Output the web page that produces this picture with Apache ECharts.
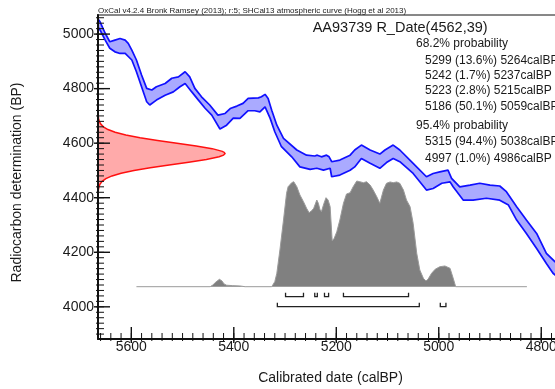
<!DOCTYPE html>
<html><head><meta charset="utf-8">
<script src="https://cdn.jsdelivr.net/npm/echarts@6/dist/echarts.min.js"></script>
<style>html,body{margin:0;padding:0;background:#fff}#c{width:555px;height:389px}</style>
</head><body><div id="c"></div>
<script>
// ---------- data ----------
const headerText = 'OxCal v4.2.4 Bronk Ramsey (2013); r:5; SHCal13 atmospheric curve (Hogg et al 2013)';
const sampleName = 'AA93739 R_Date(4562,39)';
const xAxisName = 'Calibrated date (calBP)';
const yAxisName = 'Radiocarbon determination (BP)';
const xTickLabels = [5600, 5400, 5200, 5000, 4800];
const yTickLabels = [4000, 4200, 4400, 4600, 4800, 5000];

// calibration curve band: [calBP, BP]
const curveUpper = [[5665,5055],[5661,5045],[5651,5003],[5642,4972],[5632,4978],[5622,4984],[5612,4978],[5606,4966],[5599,4941],[5590,4905],[5580,4850],[5570,4801],[5560,4795],[5551,4807],[5534,4819],[5521,4838],[5508,4843],[5495,4862],[5486,4843],[5476,4801],[5463,4770],[5447,4740],[5431,4703],[5417,4709],[5407,4727],[5394,4736],[5382,4746],[5372,4764],[5352,4766],[5346,4770],[5339,4779],[5333,4764],[5326,4721],[5316,4666],[5303,4618],[5277,4575],[5258,4556],[5242,4553],[5237,4556],[5229,4550],[5219,4556],[5214,4550],[5209,4532],[5193,4538],[5173,4556],[5164,4575],[5151,4593],[5134,4575],[5115,4560],[5105,4575],[5089,4593],[5076,4575],[5050,4526],[5024,4477],[5011,4489],[4998,4495],[4982,4501],[4975,4471],[4959,4440],[4939,4446],[4920,4453],[4900,4446],[4881,4443],[4868,4422],[4848,4367],[4829,4318],[4809,4269],[4790,4196],[4773,4165],[4754,4142]];
const curveLower = [[5665,5026],[5661,5015],[5651,4978],[5642,4948],[5632,4935],[5622,4929],[5612,4929],[5599,4905],[5590,4862],[5580,4807],[5570,4752],[5564,4740],[5551,4758],[5534,4776],[5518,4788],[5505,4807],[5495,4819],[5482,4788],[5469,4758],[5456,4728],[5443,4703],[5427,4652],[5414,4666],[5401,4692],[5388,4691],[5372,4719],[5359,4719],[5349,4715],[5339,4733],[5329,4691],[5320,4642],[5307,4587],[5287,4550],[5271,4513],[5251,4504],[5238,4508],[5225,4501],[5212,4508],[5209,4477],[5193,4483],[5173,4501],[5164,4513],[5151,4544],[5134,4526],[5115,4508],[5102,4529],[5089,4544],[5076,4532],[5050,4489],[5024,4428],[5011,4434],[4994,4453],[4978,4458],[4972,4440],[4952,4391],[4933,4391],[4907,4398],[4881,4391],[4864,4373],[4848,4318],[4829,4269],[4809,4214],[4790,4159],[4777,4123],[4754,4087]];

// radiocarbon date likelihood (relative density) by BP
const dateBP =      [4420,  4430,  4440,  4450,  4460,  4470, 4480, 4490, 4500, 4510, 4520, 4530, 4540, 4550, 4556, 4562, 4566, 4570, 4580, 4590, 4600, 4610, 4620, 4630, 4640, 4650,  4660,  4670,  4680,  4690,  4700];
const dateDensity = [0.0013,0.0033,0.0075,0.0162,0.0327,0.062,0.110,0.182,0.283,0.411,0.560,0.714,0.853,0.954,0.988,1.000,0.995,0.979,0.899,0.773,0.622,0.469,0.331,0.219,0.135,0.0784,0.0425,0.0216,0.0103,0.0046,0.0019];

// calibrated probability (relative) by calBP
const calYears = [5590,5446,5441,5435,5428,5423,5419,5414,5402,5388,5378,5326,5320,5316,5310,5303,5297,5294,5287,5283,5277,5271,5264,5258,5253,5248,5244,5238,5235,5232,5229,5224,5220,5216,5212,5208,5204,5199,5193,5186,5180,5173,5167,5160,5154,5147,5141,5134,5128,5121,5115,5108,5102,5095,5089,5082,5076,5069,5063,5056,5050,5043,5037,5030,5025,5021,5014,5007,4998,4988,4978,4972,4967,4828];
const calProb  = [0,0,0.016,0.044,0.070,0.054,0.026,0.014,0.010,0.007,0,0,0.047,0.127,0.347,0.631,0.884,0.946,0.984,0.993,0.946,0.868,0.804,0.742,0.700,0.719,0.742,0.820,0.789,0.732,0.710,0.789,0.842,0.820,0.757,0.435,0.458,0.520,0.631,0.789,0.877,0.889,0.946,1.000,0.993,0.984,0.993,0.962,0.915,0.851,0.789,0.915,0.978,0.991,0.984,0.991,0.978,0.915,0.820,0.757,0.600,0.316,0.158,0.079,0.054,0.070,0.127,0.165,0.189,0.196,0.174,0.082,0,0];

// highest probability ranges
const range68 = [[5299,5264],[5242,5237],[5223,5215],[5186,5059]];
const pct68 = ['13.6','1.7','2.8','50.1'];
const range95 = [[5315,5038],[4997,4986]];
const pct95 = ['94.4','1.0'];

// ---------- chart ----------
const FONT = '"Liberation Sans", Arial, sans-serif';
const TXT = '#1a1a1a';
const minorX = []; for (let v = 4760; v <= 5660; v += 20) minorX.push(v);
const minorY = []; for (let v = 3900; v <= 5060; v += 20) minorY.push(v);

const XMIN = 4740, XMAX = 5665, YMIN = 3882, YMAX = 5070;

const chart = echarts.init(document.getElementById('c'), null, {renderer: 'canvas'});

const probTexts = [];
const textRowsY = [43.3, 60.7, 76, 91, 106.7, 125.7, 141.7, 158.3];
const lines = [{x: 416, t: '68.2% probability'}];
range68.forEach((r, i) => lines.push({x: 425, t: r[0] + ' (' + pct68[i] + '%) ' + r[1] + 'calBP'}));
lines.push({x: 416, t: '95.4% probability'});
range95.forEach((r, i) => lines.push({x: 425, t: r[0] + ' (' + pct95[i] + '%) ' + r[1] + 'calBP'}));
lines.forEach((l, i) => probTexts.push({
  type: 'text', x: l.x, y: textRowsY[i], z: 100,
  style: {text: l.t, fontSize: 12, fontFamily: FONT, fill: TXT, align: 'left', verticalAlign: 'middle'}
}));

const plain = v => String(v);

// tick marks as scatter symbols placed through the axes
const tickSeries = (data, size, offset) => ({
  type: 'scatter', xAxisIndex: 0, yAxisIndex: 0, z: 20, silent: true, clip: false,
  data: data, symbol: 'rect', symbolSize: size, symbolOffset: offset,
  itemStyle: {color: '#111', opacity: 1}, emphasis: {disabled: true}
});

const option = {
  animation: false,
  backgroundColor: '#fff',
  grid: {left: 98, top: 15, width: 474, height: 324, containLabel: false, outerBoundsMode: 'none'},
  xAxis: [
    { type: 'value', inverse: true, min: XMIN, max: XMAX, position: 'bottom', z: 10,
      axisLine: {show: true, onZero: false, lineStyle: {color: '#111', width: 2}},
      axisTick: {show: false},
      axisLabel: {show: true, customValues: xTickLabels, formatter: plain, margin: 1, fontSize: 14, fontFamily: FONT, color: TXT},
      splitLine: {show: false} },
    { type: 'value', min: 0, max: 474 / 127, show: false }
  ],
  yAxis: [
    { type: 'value', min: YMIN, max: YMAX, position: 'left', z: 10,
      axisLine: {show: true, onZero: false, lineStyle: {color: '#111', width: 2}},
      axisTick: {show: false},
      axisLabel: {show: true, customValues: yTickLabels, formatter: plain, margin: 4, fontSize: 14, fontFamily: FONT, color: TXT},
      splitLine: {show: false} },
    { type: 'value', min: -0.4948, max: 2.5705, show: false }
  ],
  graphic: [
    {type: 'line', z: 100, shape: {x1: 97, y1: 15, x2: 555, y2: 15}, style: {stroke: '#111', lineWidth: 1}},
    {type: 'text', x: 98, y: 10.5, z: 100, style: {text: headerText, fontSize: 8, fontFamily: FONT, fill: TXT, align: 'left', verticalAlign: 'middle'}},
    {type: 'text', x: 312.7, y: 28.3, z: 100, style: {text: sampleName, fontSize: 14.5, fontFamily: FONT, fill: TXT, align: 'left', verticalAlign: 'middle'}},
    {type: 'text', x: 330.5, y: 378, z: 100, style: {text: xAxisName, fontSize: 14, fontFamily: FONT, fill: TXT, align: 'center', verticalAlign: 'middle'}},
    {type: 'text', x: 17.5, y: 182.5, rotation: Math.PI / 2, z: 100, style: {text: yAxisName, fontSize: 14, fontFamily: FONT, fill: TXT, align: 'center', verticalAlign: 'middle'}}
  ].concat(probTexts),
  series: [
    { // calibrated distribution
      type: 'line', xAxisIndex: 0, yAxisIndex: 1, z: 2,
      data: calYears.map((c, i) => [c, calProb[i]]),
      showSymbol: false, symbol: 'none', smooth: false,
      lineStyle: {color: '#9a9a9a', width: 1},
      areaStyle: {color: '#808080', opacity: 1},
      silent: true
    },
    { // probability range brackets
      type: 'custom', xAxisIndex: 0, yAxisIndex: 1, z: 4, data: [0], silent: true,
      renderItem: function (params, api) {
        const base = api.coord([5000, 0])[1];
        const children = [];
        const mk = (ranges, off) => ranges.forEach(r => {
          const a = api.coord([r[0], 0])[0], b = api.coord([r[1], 0])[0];
          const y = base + off;
          children.push({type: 'polyline', shape: {points: [[a, y - 4], [a, y], [b, y], [b, y - 4]]},
            style: {stroke: '#222', lineWidth: 1.3, fill: null}});
        });
        mk(range68, 10);
        mk(range95, 20);
        return {type: 'group', children: children};
      }
    },
    { // calibration band fill
      type: 'custom', xAxisIndex: 0, yAxisIndex: 0, z: 5, data: [0], silent: true,
      renderItem: function (params, api) {
        const pts = curveUpper.map(p => api.coord(p)).concat(curveLower.slice().reverse().map(p => api.coord(p)));
        return {type: 'polygon', shape: {points: pts}, style: {fill: '#aaaaff', stroke: null}};
      }
    },
    { type: 'line', xAxisIndex: 0, yAxisIndex: 0, z: 6, data: curveUpper, showSymbol: false, symbol: 'none',
      lineStyle: {color: '#1010ff', width: 1.7}, silent: true },
    { type: 'line', xAxisIndex: 0, yAxisIndex: 0, z: 6, data: curveLower, showSymbol: false, symbol: 'none',
      lineStyle: {color: '#1010ff', width: 1.7}, silent: true },
    { // radiocarbon date distribution
      type: 'custom', xAxisIndex: 1, yAxisIndex: 0, z: 7, data: [0], silent: true,
      renderItem: function (params, api) {
        const curve = dateBP.map((b, i) => api.coord([dateDensity[i], b]));
        const poly = [api.coord([0, dateBP[0]])].concat(curve, [api.coord([0, dateBP[dateBP.length - 1]])]);
        return {type: 'group', children: [
          {type: 'polygon', shape: {points: poly}, style: {fill: '#ffaaaa', stroke: null}},
          {type: 'polyline', shape: {points: curve}, style: {stroke: '#ff1010', lineWidth: 1.5, fill: null}}
        ]};
      }
    },
    tickSeries(minorX.map(v => [v, YMIN]), [1, 8], [0, -2]),
    tickSeries(xTickLabels.map(v => [v, YMIN]), [1.4, 16], [0, -4]),
    tickSeries(minorY.map(v => [XMAX, v]), [8, 1], [2, 0]),
    tickSeries(yTickLabels.map(v => [XMAX, v]), [16, 1.4], [4, 0])
  ]
};
chart.setOption(option);
</script>
</body></html>
